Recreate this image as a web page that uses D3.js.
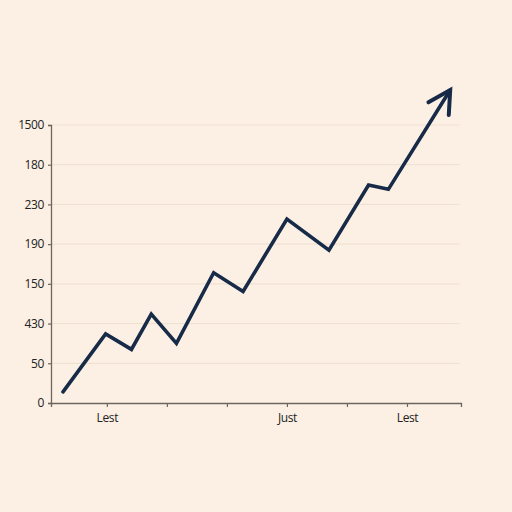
<!DOCTYPE html>
<html>
<head>
<meta charset="utf-8">
<script src="https://cdn.jsdelivr.net/npm/d3@7"></script>
<style>
  html, body { margin: 0; padding: 0; background: #fcf0e4; }
  svg { display: block; }
</style>
</head>
<body>
<div id="chart"></div>
<script>
// tick labels as printed on the picture (y labels are read bottom to top)
var yTickLabels = ["0", "50", "430", "150", "190", "230", "180", "1500"];
var xTickLabels = ["Lest", "", "", "Just", "", "Lest"];

// line vertices, x in tick steps, y in gridline steps
var seriesX = [-0.73, -0.02, 0.41, 0.74, 1.16, 1.78, 2.27, 3.0, 3.70, 4.36, 4.69, 5.72];
var seriesY = [0.28, 1.74, 1.35, 2.24, 1.50, 3.28, 2.81, 4.63, 3.85, 5.49, 5.38, 7.88];

var width = 512, height = 512;
var margin = { top: 125, right: 51, bottom: 109, left: 51 };

var svg = d3.select("#chart")
  .append("svg")
  .attr("width", width)
  .attr("height", height);

svg.append("rect")
  .attr("width", width)
  .attr("height", height)
  .style("fill", "#fcf0e4");

var x = d3.scaleLinear()
  .domain([-0.93, 5.9])
  .range([margin.left, width - margin.right]);

var y = d3.scaleLinear()
  .domain([0, 7])
  .range([height - margin.bottom, margin.top]);

// gridlines
svg.selectAll("grid")
  .data(d3.range(1, 8))
  .enter()
  .append("line")
  .attr("x1", margin.left)
  .attr("x2", x(5.88))
  .attr("y1", function (d) { return y(d) })
  .attr("y2", function (d) { return y(d) })
  .style("stroke", "#f0e2d3")
  .style("stroke-width", 1.2);

// y axis
svg.append("g")
  .attr("transform", "translate(" + margin.left + ",0)")
  .call(d3.axisLeft(y)
    .tickValues(d3.range(0, 8))
    .tickSize(3)
    .tickPadding(4)
    .tickFormat(function (d) { return yTickLabels[d] }));

// x axis
svg.append("g")
  .attr("transform", "translate(0," + (height - margin.bottom) + ")")
  .call(d3.axisBottom(x)
    .tickValues(d3.range(0, 6))
    .tickSize(4)
    .tickPadding(6)
    .tickFormat(function (d) { return xTickLabels[d] }));

svg.selectAll(".domain")
  .style("stroke", "#6e655d")
  .style("stroke-width", 1.3);
svg.selectAll(".tick line")
  .style("stroke", "#6e655d")
  .style("stroke-width", 1.2);
svg.selectAll(".tick text")
  .attr("fill", "#222222")
  .style("fill", "#222222")
  .style("font-family", "'Open Sans', sans-serif")
  .style("font-size", "12px")
  .style("letter-spacing", "-0.4px");

// the line
var points = seriesX.map(function (d, i) { return [x(d), y(seriesY[i])] });

svg.append("path")
  .attr("d", d3.line()(points))
  .style("fill", "none")
  .style("stroke", "#172a47")
  .style("stroke-width", 3.6)
  .style("stroke-linejoin", "miter")
  .style("stroke-linecap", "round");

// arrow head at the end
var last = points[points.length - 1], prev = points[points.length - 2];
var ang = Math.atan2(last[1] - prev[1], last[0] - prev[0]);
var len = 25, spread = 0.5;
var head = [
  [last[0] - len * Math.cos(ang - spread), last[1] - len * Math.sin(ang - spread)],
  last,
  [last[0] - len * Math.cos(ang + spread), last[1] - len * Math.sin(ang + spread)]
];
svg.append("path")
  .attr("d", d3.line()(head))
  .style("fill", "none")
  .style("stroke", "#172a47")
  .style("stroke-width", 4)
  .style("stroke-linejoin", "miter")
  .style("stroke-linecap", "round");
</script>
</body>
</html>
